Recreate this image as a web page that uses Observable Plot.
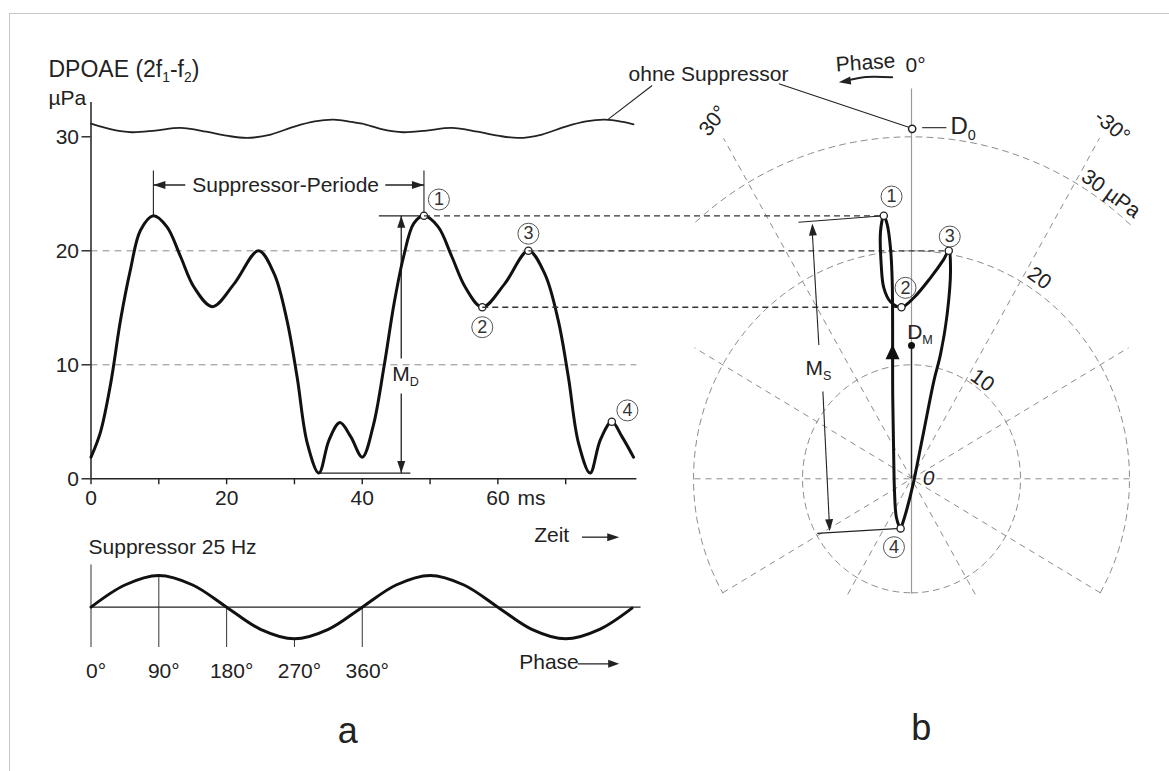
<!DOCTYPE html>
<html><head><meta charset="utf-8">
<script src="https://cdn.jsdelivr.net/npm/d3@7"></script>
<script src="https://cdn.jsdelivr.net/npm/@observablehq/plot@0.6"></script>
<style>
html,body{margin:0;padding:0;background:#fff;}
#root{position:relative;width:1169px;height:771px;overflow:hidden;background:#fff;}
#root svg{position:absolute;left:0;top:0;}
#frame{position:absolute;left:9px;top:13px;width:1200px;height:800px;border-left:1.5px solid #c6c6c6;border-top:1.5px solid #c6c6c6;}
</style></head><body><div id="root"><div id="frame"></div></div>
<script>
// ---------------- DATA ----------------
// Panel a: DPOAE amplitude (µPa) over time (ms) with 25 Hz suppressor
const timeMs = [0,1.4,2.9,4.35,5.8,7.3,9.2,11.2,13.2,15.2,17.9,21.1,24.7,27,28.9,30.4,31.9,33.6,35.1,36.7,38.3,40,41.6,43.2,44.7,46.1,47.6,49.1,51.2,53.2,55.2,57.7,61,64.5,66.9,68.9,70.4,71.9,73.6,75.1,76.8,78.3,80];
const dpoae  = [1.9,4.1,8.35,13.9,18.3,21.8,23.07,22.1,19.5,16.8,15.1,17.1,20,18,13.9,8.9,3.1,0.5,3.4,4.93,3.7,1.9,4.6,9.8,15.4,19.5,22.4,23.07,22.1,19.5,16.8,15.05,17.1,20,18,13.9,8.9,3.1,0.5,3.4,5.0,3.7,1.9];
// "ohne Suppressor" reference trace
const refTimeMs = [0,3,6,9.5,13.2,17,20,23,26.5,30,33,35.8,38.5,40,43,46,49.5,53.2,57,60,63,66.5,70,73,75.8,78.5,80];
const refDpoae  = [31.15,30.65,30.4,30.55,30.78,30.45,30.1,29.9,30.2,30.9,31.35,31.5,31.3,31.15,30.65,30.4,30.55,30.78,30.45,30.1,29.9,30.2,30.9,31.35,31.5,31.3,31.1];
// marked points 1..4 in panel a
const markLabels = ["1","2","3","4"];
const markTimeMs = [49.1,57.7,64.5,76.8];
const markDpoae  = [23.07,15.05,20.0,5.0];
const yTicks = [0,10,20,30];
const xTicks = [0,10,20,30,40,50,60,70];
const xTickLabels = [0,20,40,60];
const gridLevels = [10,20];
// Suppressor sine (normalised), phase in degrees
const phaseDeg = [0,45,90,135,180,225,270,315,360,405,450,495,540,585,630,675,718];
const suppressor = [0,0.7,1,0.7,0,-0.7,-1,-0.7,0,0.7,1,0.7,0,-0.7,-1,-0.7,-0.03];
const phaseTicks = [0,90,180,270,360];
// Panel b: polar trajectory (x = -A·sin φ, y = A·cos φ, µPa)
const loopX = [-2.54,-2.84,-2.78,-2.54,-1.93,-0.92,0.21,1.74,2.96,3.42,3.58,3.27,2.66,2.05,1.13,0.52,0.21,-0.39,-0.85,-1.0,-1.38,-1.56,-1.62,-1.72,-1.77,-1.93,-2.23];
const loopY = [23.07,21.73,18.8,16.75,15.53,15.05,15.88,17.63,19.25,20.0,18.5,14.42,10.91,8.57,4.18,1.26,-0.2,-2.54,-4.0,-4.35,-3.42,-1.08,1.26,7.1,17.34,20.26,22.32];
const loopMarkIndex = [0,5,9,19];
const ringRadius = [10,20,30];
const ringFrom = [-180,-120,-42];
const ringTo = [180,120,42];
const rayPhase = [30,-30,60,-60,90];
const rayInner = [-11.7,-11.7,-20,-20,-20];
const rayOuter = [34.5,34.5,23,23,20];
const D0 = {x: 0.06, y: 30.7};
const DM = {x: 0, y: 11.7};

// ---------------- helpers ----------------
const W = 1169, H = 771;
const FONT = '"Liberation Sans", Arial, Helvetica, sans-serif';
const INK = "#222";
const rad = Math.PI / 180;
const P = (r, a) => ({x: -r * Math.sin(a * rad), y: r * Math.cos(a * rad)});
const baseStyle = {background: "transparent", fontFamily: FONT, fontSize: "21px", color: INK, overflow: "visible"};
const NS = "http://www.w3.org/2000/svg";
function subify(svg) {
  svg.querySelectorAll("text").forEach(el => {
    const s = el.textContent;
    if (!s.includes("_{")) return;
    el.textContent = "";
    const re = /_\{([^}]*)\}/g;
    let last = 0, m, shifted = false;
    while ((m = re.exec(s))) {
      if (m.index > last) {
        const t = document.createElementNS(NS, "tspan");
        t.textContent = s.slice(last, m.index);
        if (shifted) t.setAttribute("dy", "-0.24em");
        shifted = false;
        el.appendChild(t);
      }
      const sub = document.createElementNS(NS, "tspan");
      sub.textContent = m[1];
      sub.setAttribute("font-size", "0.6em");
      sub.setAttribute("dy", shifted ? "0" : "0.4em");
      shifted = true;
      el.appendChild(sub);
      last = re.lastIndex;
    }
    if (last < s.length) {
      const t = document.createElementNS(NS, "tspan");
      t.textContent = s.slice(last);
      if (shifted) t.setAttribute("dy", "-0.24em");
      el.appendChild(t);
    }
  });
  return svg;
}
const root = document.getElementById("root");

// ---------------- Panel a (time) ----------------
const mainData = timeMs.map((t, i) => ({t, v: dpoae[i]}));
const refData = refTimeMs.map((t, i) => ({t, v: refDpoae[i]}));
const marks = markTimeMs.map((t, i) => ({t, v: markDpoae[i], label: markLabels[i]}));
const circledA = [
  {t: 51.3, v: 24.5, label: "1"}, {t: 57.7, v: 13.3, label: "2"},
  {t: 64.5, v: 21.5, label: "3"}, {t: 79.1, v: 6.0, label: "4"}
];
const headsA = [
  {t: 9.2, v: 25.77, a: -90}, {t: 49.1, v: 25.77, a: 90},
  {t: 45.75, v: 23.07, a: 0}, {t: 45.75, v: 0.5, a: 180},
  {t: 77.9, v: -5.12, a: 90}
];
const xRangeA = [90.5, 633], yRangeA = [478.3, 102.1];
const chartA = Plot.plot({
  width: W, height: H,
  marginLeft: xRangeA[0], marginRight: W - xRangeA[1], marginTop: yRangeA[1], marginBottom: H - yRangeA[0],
  style: baseStyle,
  x: {domain: [0, 80]}, y: {domain: [0, 33]},
  marks: [
    Plot.ruleY(gridLevels, {x1: 0, x2: 80.5, stroke: "#8c8c8c", strokeWidth: 1, strokeDasharray: "7,5"}),
    Plot.ruleX([0], {y1: 0, y2: 33, stroke: INK, strokeWidth: 1.5}),
    Plot.ruleY([0], {x1: 0, x2: 80.5, stroke: INK, strokeWidth: 1.5}),
    Plot.axisY({ticks: yTicks, tickSize: 9, tickPadding: 3, fontSize: 21, label: null, strokeWidth: 1.4}),
    Plot.axisX({ticks: xTicks, tickSize: 6, tickPadding: 5, fontSize: 21, label: null, strokeWidth: 1.4,
      tickFormat: d => xTickLabels.includes(d) ? String(d) : ""}),
    Plot.text(["ms"], {x: 62.9, y: -0.965, lineAnchor: "top", textAnchor: "start", fontSize: 21}),
    Plot.line(refData, {x: "t", y: "v", curve: "catmull-rom", stroke: INK, strokeWidth: 1.8}),
    // Suppressor period
    Plot.ruleX([9.2, 49.1], {y1: 23.07, y2: 27, stroke: INK, strokeWidth: 1.1}),
    Plot.link([{x1: 9.2, x2: 13.9}, {x1: 43.4, x2: 49.1}], {x1: "x1", x2: "x2", y1: 25.77, y2: 25.77, stroke: INK, strokeWidth: 1.3}),
    Plot.text(["Suppressor-Periode"], {x: 28.7, y: 25.77, fontSize: 21, lineAnchor: "middle"}),
    // M_D
    Plot.link([{y1: 23.07, y2: 10.55}, {y1: 7.48, y2: 0.5}], {x1: 45.75, x2: 45.75, y1: "y1", y2: "y2", stroke: INK, strokeWidth: 1.3}),
    Plot.link([{x1: 42.45, x2: 49.1, y: 23.07}, {x1: 33.6, x2: 47.1, y: 0.5}], {x1: "x1", x2: "x2", y1: "y", y2: "y", stroke: INK, strokeWidth: 1.2}),
    Plot.text(["M_{D}"], {x: 44.43, y: 9.15, textAnchor: "start", lineAnchor: "middle", fontSize: 21}),
    Plot.vector(headsA, {x: "t", y: "v", rotate: "a", length: 12, r: 4, shape: "spike", anchor: "end", fill: INK, stroke: "none"}),
    Plot.line(mainData, {x: "t", y: "v", curve: "catmull-rom", stroke: "#111", strokeWidth: 3}),
    Plot.dot(marks, {x: "t", y: "v", r: 3.6, fill: "white", stroke: INK, strokeWidth: 1.3}),
    Plot.dot(circledA, {x: "t", y: "v", r: 10.5, fill: "none", stroke: "#555", strokeWidth: 1}),
    Plot.text(circledA, {x: "t", y: "v", text: "label", fontSize: 18, lineAnchor: "middle", fill: "#333"}),
    // titles
    Plot.text(["DPOAE (2f_{1}-f_{2})"], {x: -6.27, y: 35.9, textAnchor: "start", lineAnchor: "middle", fontSize: 23}),
    Plot.text(["µPa"], {x: -6.27, y: 33.4, textAnchor: "start", lineAnchor: "middle", fontSize: 21}),
    Plot.text(["Zeit"], {x: 65.35, y: -4.97, textAnchor: "start", lineAnchor: "middle", fontSize: 21}),
    Plot.link([{x1: 72.4, x2: 76.5}], {x1: "x1", x2: "x2", y1: -5.12, y2: -5.12, stroke: INK, strokeWidth: 1.3}),
    Plot.text(["a"], {x: 37.85, y: -22.2, lineAnchor: "middle", fontSize: 36})
  ]
});
root.appendChild(subify(chartA));

// ---------------- Suppressor sine ----------------
const sineData = phaseDeg.map((p, i) => ({p, s: suppressor[i]}));
const phaseLineTop = [1.35, 1, 0, -1, 0];
const chartS = Plot.plot({
  width: W, height: H,
  marginLeft: 90.5, marginRight: W - 633, marginTop: 575, marginBottom: H - 638.3,
  style: baseStyle,
  x: {domain: [0, 720]}, y: {domain: [-1, 1], axis: null},
  marks: [
    Plot.ruleY([0], {x1: 0, x2: 730, stroke: INK, strokeWidth: 1.4}),
    Plot.link(phaseTicks.map((p, i) => ({p, top: phaseLineTop[i]})), {x1: "p", x2: "p", y1: -1.26, y2: "top", stroke: "#333", strokeWidth: 1}),
    Plot.line(sineData, {x: "p", y: "s", curve: "catmull-rom", stroke: "#111", strokeWidth: 3}),
    Plot.axisX({ticks: phaseTicks, tickFormat: d => d + "°", tickSize: 0, tickPadding: 24, dx: 5, fontSize: 21, label: null}),
    Plot.text(["Suppressor 25 Hz"], {x: -3.3, y: 1.89, textAnchor: "start", lineAnchor: "middle", fontSize: 21}),
    Plot.text(["Phase"], {x: 568.3, y: -1.74, textAnchor: "start", lineAnchor: "middle", fontSize: 21}),
    Plot.link([{x1: 646, x2: 688}], {x1: "x1", x2: "x2", y1: -1.79, y2: -1.79, stroke: INK, strokeWidth: 1.3}),
    Plot.vector([{p: 701, s: -1.79}], {x: "p", y: "s", rotate: 90, length: 11, r: 4, shape: "spike", anchor: "end", fill: INK, stroke: "none"})
  ]
});
root.appendChild(chartS);

// ---------------- Panel b (polar) ----------------
const xDomB = [-32, 22], xRangeB = [562.2, 1150.8];
const yDomB = [-12, 35], yRangeB = [615.1, 79.3];
const xScaleB = Plot.scale({x: {domain: xDomB, range: xRangeB}});
const xScaleA = chartA.scale("x");
const toB = t => xScaleB.invert(xScaleA.apply(t));

const rings = ringRadius.flatMap((r, i) => d3.range(ringFrom[i], ringTo[i] + 0.001, 2).map(a => ({...P(r, a), ring: r})));
const rays = rayPhase.map((a, i) => { const p0 = P(rayInner[i], a), p1 = P(rayOuter[i], a); return {x1: p0.x, y1: p0.y, x2: p1.x, y2: p1.y}; });
const loop = loopX.map((x, i) => ({x, y: loopY[i]}));
const loopMarks = loopMarkIndex.map(i => loop[i]);
const connectors = [
  {x1: toB(markTimeMs[0]), x2: loopX[0], y: markDpoae[0]},
  {x1: toB(markTimeMs[2]), x2: loopX[9], y: markDpoae[2]},
  {x1: toB(markTimeMs[1]), x2: loopX[5], y: markDpoae[1]}
];
const circledB = [
  {x: -1.83, y: 24.76, label: "1"}, {x: -0.55, y: 16.75, label: "2"},
  {x: 3.51, y: 21.25, label: "3"}, {x: -1.61, y: -6.0, label: "4"}
];
const thinLinks = [
  {x1: -10.37, y1: 22.5, x2: loopX[0], y2: loopY[0]},      // M_S upper extension
  {x1: -8.65, y1: -4.79, x2: loopX[19], y2: loopY[19]},    // M_S lower extension
  {x1: -8.5, y1: 11.74, x2: -9.1, y2: 21.6},               // M_S upper shaft
  {x1: -8.13, y1: 7.65, x2: -7.55, y2: -3.7},              // M_S lower shaft
  {x1: -12.17, y1: 34.65, x2: -0.25, y2: 30.84},           // leader to D0
  {x1: -23.79, y1: 34.5, x2: toB(76.3), y2: 31.55},        // leader to reference trace
  {x1: 0.98, y1: 30.8, x2: 3.2, y2: 30.8}                  // D0 label tick
];
const headsB = [
  {x: -9.1, y: 22.4, a: -3, len: 11},
  {x: -7.5, y: -4.6, a: 177, len: 11},
  {x: -6.67, y: 34.79, a: 262, len: 11}
];
const phaseArrow = [{x: -1.77, y: 35.23}, {x: -4.2, y: 35.25}, {x: -5.9, y: 34.95}];
const polarLabels = [
  {x: -18.2, y: 31.4, text: "30°", rot: -52},
  {x: 18.4, y: 30.9, text: "-30°", rot: 40},
  {x: 18.3, y: 25.0, text: "30 µPa", rot: 36},
  {x: 11.74, y: 17.6, text: "20", rot: 36},
  {x: 6.51, y: 8.63, text: "10", rot: 36},
  {x: -4.22, y: 36.5, text: "Phase", rot: -4},
  {x: 0.37, y: 36.25, text: "0°", rot: 0}
];
const chartB = Plot.plot({
  width: W, height: H,
  marginLeft: xRangeB[0], marginRight: W - xRangeB[1], marginTop: yRangeB[1], marginBottom: H - yRangeB[0],
  style: baseStyle,
  x: {domain: xDomB, axis: null}, y: {domain: yDomB, axis: null},
  marks: [
    Plot.line(rings, {x: "x", y: "y", z: "ring", stroke: "#8c8c8c", strokeWidth: 1, strokeDasharray: "6,5"}),
    Plot.link(rays, {x1: "x1", y1: "y1", x2: "x2", y2: "y2", stroke: "#8c8c8c", strokeWidth: 1, strokeDasharray: "6,5"}),
    Plot.ruleX([0], {y1: -10.1, y2: 34.2, stroke: "#9a9a9a", strokeWidth: 1.2}),
    Plot.link(connectors, {x1: "x1", x2: "x2", y1: "y", y2: "y", stroke: "#333", strokeWidth: 1.3, strokeDasharray: "6,4"}),
    Plot.link(thinLinks, {x1: "x1", y1: "y1", x2: "x2", y2: "y2", stroke: INK, strokeWidth: 1.1}),
    Plot.line(phaseArrow, {x: "x", y: "y", curve: "catmull-rom", stroke: INK, strokeWidth: 2}),
    Plot.vector(headsB, {x: "x", y: "y", rotate: "a", length: "len", r: 4, shape: "spike", anchor: "end", fill: INK, stroke: "none"}),
    Plot.ruleX([DM.x], {y1: 0, y2: DM.y, stroke: INK, strokeWidth: 1.4}),
    Plot.line(loop, {x: "x", y: "y", curve: "catmull-rom-closed", stroke: "#111", strokeWidth: 3}),
    Plot.vector([{x: -1.74, y: 11.8}], {x: "x", y: "y", rotate: 0, length: 15, r: 7, shape: "spike", anchor: "end", fill: "#111", stroke: "none"}),
    Plot.dot([DM], {x: "x", y: "y", r: 3.5, fill: "#111"}),
    Plot.dot(loopMarks, {x: "x", y: "y", r: 3.6, fill: "white", stroke: INK, strokeWidth: 1.3}),
    Plot.dot([D0], {x: "x", y: "y", r: 3.6, fill: "white", stroke: INK, strokeWidth: 1.5}),
    Plot.dot(circledB, {x: "x", y: "y", r: 10.5, fill: "none", stroke: "#555", strokeWidth: 1}),
    Plot.text(circledB, {x: "x", y: "y", text: "label", fontSize: 18, lineAnchor: "middle", fill: "#333"}),
    Plot.text(polarLabels, {x: "x", y: "y", text: "text", rotate: "rot", fontSize: 21, lineAnchor: "middle"}),
    Plot.text(["0"], {x: 1.56, y: 0.03, fontSize: 21, fontStyle: "italic", lineAnchor: "middle"}),
    Plot.text(["ohne Suppressor"], {x: -25.96, y: 35.5, textAnchor: "start", lineAnchor: "middle", fontSize: 21}),
    Plot.text(["D_{0}"], {x: 3.58, y: 30.9, textAnchor: "start", lineAnchor: "middle", fontSize: 24}),
    Plot.text(["D_{M}"], {x: -0.4, y: 12.86, textAnchor: "start", lineAnchor: "middle", fontSize: 21}),
    Plot.text(["M_{S}"], {x: -9.72, y: 9.68, textAnchor: "start", lineAnchor: "middle", fontSize: 21}),
    Plot.text(["b"], {x: 0.9, y: -21.9, lineAnchor: "middle", fontSize: 36})
  ]
});
root.appendChild(subify(chartB));
</script></body></html>
